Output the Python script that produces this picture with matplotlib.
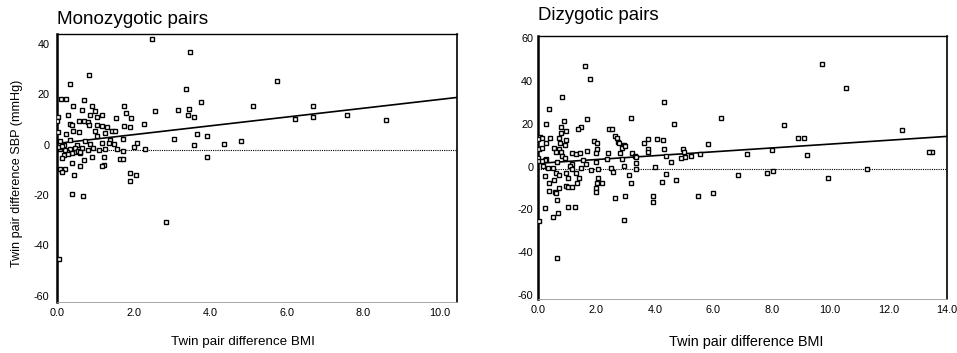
import matplotlib
matplotlib.use("Agg")
import matplotlib.pyplot as plt
import numpy as np

plt.rcParams['font.family'] = ['Liberation Sans', 'DejaVu Sans']

# Monozygotic pairs: BMI difference, SBP difference
mz_bmi = [2.48, 3.48, 0.83, 0.33, 5.74, 3.37, 0.11, 0.24, 0.70, 3.77, 5.13, 6.70, 0.43, 0.91,
          1.76, 3.44, 2.57, 3.17, 0.65, 1.81, 1.00, 0.28, 1.17, 0.87, 3.43, 3.58, 7.57, 6.70,
          6.23, 8.59, 0.03, 1.04, 1.53, 1.93, 0.00, 0.58, 0.70, 0.80, 0.83, 0.33, 0.40, 1.04,
          1.17, 1.30, 1.74, 1.91, 2.26, 0.42, 0.57, 0.03, 0.23, 1.00, 1.26, 1.43, 1.52, 1.04,
          3.65, 3.93, 0.07, 0.35, 0.74, 1.39, 1.72, 3.06, 4.80, 4.37, 2.10, 3.58, 0.87, 1.17,
          1.48, 0.17, 0.52, 2.00, 0.09, 0.35, 0.65, 1.57, 2.30, 1.72, 1.26, 0.26, 0.48, 0.61,
          0.81, 0.17, 0.39, 0.13, 1.24, 0.91, 0.70, 1.65, 1.72, 3.91, 0.39, 0.61, 1.22, 1.17,
          0.09, 0.20, 0.13, 0.45, 1.90, 2.07, 1.91, 0.39, 0.68, 2.85, 0.06,
          0.05, 0.22, 0.30, 0.46, 0.55, 0.95, 1.10, 1.35, 0.14, 0.60]
mz_sbp = [42.0, 36.9, 27.6, 24.1, 25.2, 22.3, 18.2, 18.2, 17.6, 17.1, 15.4, 15.4, 15.5, 15.5,
          15.3, 14.3, 13.3, 13.7, 13.9, 12.6, 13.3, 11.7, 11.7, 11.7, 11.7, 11.0, 11.7, 11.1,
          10.3, 9.9, 10.9, 11.0, 10.6, 10.6, 9.3, 9.5, 9.5, 8.9, 8.0, 8.2, 7.8, 7.7,
          7.3, 6.9, 7.3, 7.0, 8.1, 5.6, 4.9, 4.9, 4.4, 5.3, 4.8, 5.6, 5.3, 3.6,
          4.2, 3.6, 1.6, 2.0, 1.3, 2.0, 2.1, 2.4, 1.6, 0.3, 0.7, -0.3, 0.3, 0.7,
          0.4, 0.0, 0.0, -0.9, -1.6, -1.6, -1.3, -1.7, -1.6, -2.4, -1.7, -2.7, -2.9, -3.3,
          -2.0, -4.0, -3.3, -5.3, -5.0, -5.0, -6.2, -5.8, -5.8, -5.0, -7.3, -8.4, -8.0, -8.6,
          -9.5, -9.7, -10.9, -11.9, -11.3, -11.9, -14.5, -19.6, -20.2, -30.6, -45.4,
          -1.0, -2.0, -3.8, -1.5, -2.5, -1.2, -2.2, 0.8, -0.6, -3.0]

# Dizygotic pairs: BMI difference, SBP difference
dz_bmi = [9.71, 1.61, 1.78, 10.54, 0.83, 4.32, 0.38, 3.17, 6.27, 1.67, 0.89, 0.29, 4.65, 1.47,
          0.78, 8.42, 1.37, 2.43, 2.53, 12.47, 0.95, 2.65, 2.70, 0.79, 8.89, 9.09, 0.07, 0.13,
          0.01, 0.40, 0.71, 0.95, 1.93, 3.75, 4.06, 4.29, 2.74, 2.03, 0.29, 0.74, 0.93, 2.77,
          2.94, 3.62, 5.82, 0.54, 0.03, 0.13, 0.72, 2.01, 2.89, 2.98, 3.75, 4.30, 4.96, 8.02,
          13.47, 13.37, 1.68, 0.63, 0.80, 2.00, 1.18, 1.29, 1.43, 2.39, 2.80, 3.22, 3.75, 5.00,
          5.54, 7.15, 9.21, 3.33, 4.37, 5.25, 5.03, 3.37, 4.90, 0.83, 0.91, 0.01, 0.29, 0.23,
          2.37, 2.88, 1.54, 4.55, 0.03, 0.14, 0.65, 1.97, 1.63, 1.18, 3.34, 2.94, 4.00, 0.17,
          1.09, 0.34, 0.51, 1.46, 2.06, 2.51, 3.37, 11.26, 1.15, 1.83, 8.06, 7.85, 2.58, 0.24,
          0.61, 0.95, 1.31, 0.71, 6.86, 3.11, 4.37, 1.40, 2.06, 1.01, 9.92, 0.54, 4.24, 4.73,
          0.38, 2.03, 3.17, 2.19, 1.34, 0.71, 0.95, 1.03, 1.18, 2.00, 0.38, 0.57, 0.63, 1.98,
          6.00, 5.49, 3.93, 2.99, 2.64, 3.93, 0.65, 0.23, 1.03, 1.26, 0.70, 0.51, 0.03, 2.93,
          0.65]
dz_sbp = [48.0, 47.2, 41.0, 36.9, 32.7, 30.4, 26.8, 22.6, 22.6, 22.3, 21.3, 19.9, 19.9, 18.7,
          18.7, 19.2, 17.5, 17.6, 17.5, 17.0, 16.4, 14.3, 13.2, 15.6, 13.2, 13.2, 13.7, 13.2,
          12.8, 13.2, 13.2, 12.5, 12.0, 12.8, 12.8, 12.2, 11.7, 10.9, 10.9, 10.9, 10.1, 10.9,
          10.1, 10.9, 10.4, 8.9, 8.1, 8.6, 8.1, 8.1, 8.6, 9.4, 8.1, 8.1, 8.4, 7.9,
          7.0, 6.9, 7.5, 6.9, 7.0, 6.5, 6.2, 5.9, 6.2, 6.2, 6.2, 6.2, 7.0, 6.9,
          6.1, 5.9, 5.3, 5.0, 5.1, 5.1, 4.4, 4.4, 4.1, 5.0, 4.2, 4.1, 3.6, 3.1,
          3.4, 3.4, 3.1, 2.0, 2.6, 2.8, 2.0, 2.0, 1.1, 1.2, 1.6, 0.5, 0.0, 0.5,
          0.5, -0.5, -0.5, -0.8, -0.9, -0.8, -1.1, -1.2, -1.2, -1.7, -1.9, -3.1, -2.6, -4.2,
          -3.1, -3.1, -3.1, -3.9, -3.9, -3.9, -3.4, -5.5, -5.5, -5.5, -5.5, -6.4, -7.2, -6.5,
          -7.5, -7.8, -7.5, -7.8, -7.8, -10.1, -9.0, -9.4, -9.4, -9.8, -11.2, -11.7, -12.2, -11.7,
          -12.2, -13.7, -13.7, -13.7, -14.8, -16.5, -15.6, -19.2, -18.7, -19.0, -21.5, -23.7, -25.2, -24.9,
          -42.7]

# Fitted regression lines (intercept, slope) and reference (dotted) levels
mz_fit = (0.5, 1.75)
dz_fit = (1.5, 0.9)
mz_ref = -2.0
dz_ref = -1.0

mz_xticks = [0, 2, 4, 6, 8, 10]
mz_yticks = [40, 20, 0, -20, -40, -60]
dz_xticks = [0, 2, 4, 6, 8, 10, 12, 14]
dz_yticks = [60, 40, 20, 0, -20, -40, -60]

fig = plt.figure(figsize=(9.57, 3.53), dpi=100)
ax1 = fig.add_axes([57/957, 51/353, 400/957, 268/353])
ax2 = fig.add_axes([538/957, 53.7/353, 409/957, 263.3/353])


def style(ax, xlim, ylim, xt, yt, ypad):
    ax.set_xlim(*xlim)
    ax.set_ylim(*ylim)
    ax.set_xticks(xt)
    ax.set_xticklabels([f"{v:.1f}" for v in xt])
    ax.set_yticks(yt)
    ax.set_yticklabels([f"{v:d}" for v in yt])
    ax.tick_params(axis='x', length=0, labelsize=7.8, pad=4)
    ax.tick_params(axis='y', length=0, labelsize=7.8, pad=ypad)
    ax.spines['left'].set_linewidth(1.8)
    ax.spines['right'].set_linewidth(1.2)
    ax.spines['top'].set_linewidth(1.0)
    ax.spines['bottom'].set_linewidth(0.6)
    ax.spines['bottom'].set_color('#999999')


def panel(ax, x, y, fit, ref, xlim):
    ax.plot(x, y, linestyle='none', marker='s', markersize=3.5, markerfacecolor='white',
            markeredgecolor='black', markeredgewidth=1.0, zorder=3)
    xs = np.array(xlim)
    ax.plot(xs, fit[0] + fit[1] * xs, color='black', lw=1.2, zorder=2)
    ax.plot(xs, [ref, ref], color='black', lw=0.8, linestyle=(0, (1, 1)), zorder=1)


panel(ax1, mz_bmi, mz_sbp, mz_fit, mz_ref, (0, 10.45))
style(ax1, (0, 10.45), (-62.5, 44), mz_xticks, mz_yticks, 5.5)
panel(ax2, dz_bmi, dz_sbp, dz_fit, dz_ref, (0, 14))
style(ax2, (0, 14), (-62, 61), dz_xticks, dz_yticks, 3.5)

fig.text(57/957, 1 - 20/353, "Monozygotic pairs", fontsize=13.6, ha='left', va='center')
fig.text(538/957, 1 - 16/353, "Dizygotic pairs", fontsize=13.4, ha='left', va='center')
fig.text(17/957, 1 - 173/353, "Twin pair difference SBP (mmHg)", fontsize=9.1,
         rotation=90, ha='center', va='center')
fig.text(243/957, 1 - 342/353, "Twin pair difference BMI", fontsize=9.6, ha='center', va='center')
fig.text(746/957, 1 - 342/353, "Twin pair difference BMI", fontsize=10.4, ha='center', va='center')

fig.savefig("out.png", dpi=100)
